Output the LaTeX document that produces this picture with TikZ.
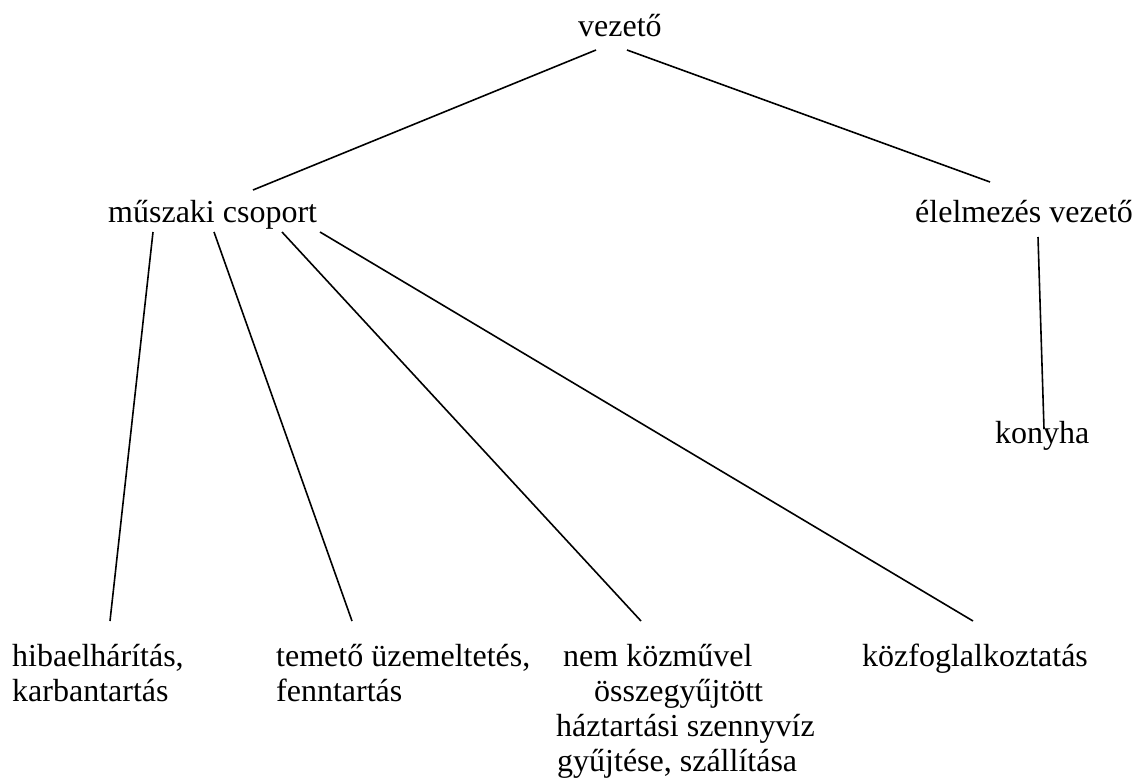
\documentclass[tikz,border=0pt]{standalone}
\usepackage{fontspec}
\setmainfont{Liberation Serif}
\begin{document}
\begin{tikzpicture}[x=1pt,y=-1pt,
  lbl/.style={inner sep=0pt,anchor=base west,font=\fontsize{32}{35}\selectfont,align=left},
  conn/.style={line width=1.6pt,black}]
\useasboundingbox (0,0) rectangle (1147,781);
% nodes (multi-line nodes are placed by their last baseline)
\node[lbl] (vez) at (578,37) {vezető};
\node[lbl] (musz) at (108,222) {műszaki csoport};
\node[lbl] (elel) at (915,222) {élelmezés vezető};
\node[lbl] (kony) at (995,443) {konyha};
\node[lbl] (hiba) at (12,701) {hibaelhárítás,\\karbantartás};
\node[lbl] (temeto) at (276,701) {temető üzemeltetés,\\fenntartás};
\node[lbl] (szenny) at (556,771) {\hspace*{7pt}nem közművel\\\hspace*{38pt}összegyűjtött\\háztartási szennyvíz\\\hspace*{1pt}gyűjtése, szállítása};
\node[lbl] (kozf) at (862,666) {közfoglalkoztatás};
% connector end points
\coordinate (vezL) at (596,50);
\coordinate (vezR) at (627,50);
\coordinate (muszT) at (253,190);
\coordinate (elelT) at (990,182);
\coordinate (muszA) at (153,232);
\coordinate (muszB) at (214,232);
\coordinate (muszC) at (282,232);
\coordinate (muszD) at (320,232);
\coordinate (hibaT) at (110,621);
\coordinate (temT) at (352,621);
\coordinate (szenT) at (641,621);
\coordinate (kozT) at (973,621);
\coordinate (elelB) at (1038,237);
\coordinate (konyT) at (1044,429);
% connectors
\draw[conn] (vezL) -- (muszT);
\draw[conn] (vezR) -- (elelT);
\draw[conn] (muszA) -- (hibaT);
\draw[conn] (muszB) -- (temT);
\draw[conn] (muszC) -- (szenT);
\draw[conn] (muszD) -- (kozT);
\draw[conn] (elelB) -- (konyT);
\end{tikzpicture}
\end{document}
